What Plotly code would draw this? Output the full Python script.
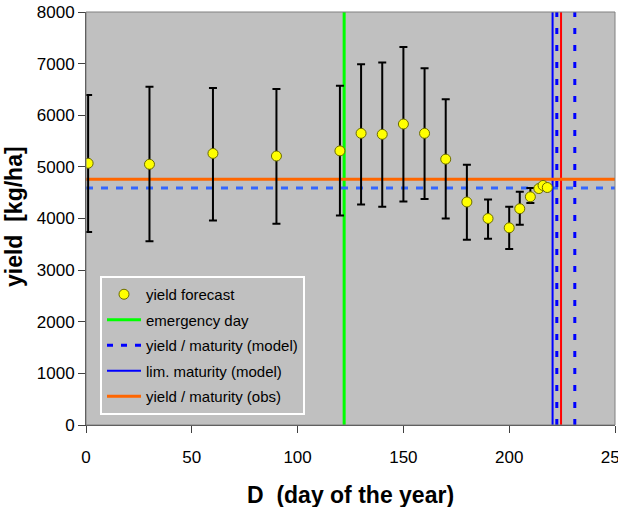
import plotly.graph_objects as go

# ---- data ----
days = [1, 30, 60, 90, 120, 130, 140, 150, 160, 170, 180, 190, 200, 205, 210, 214, 216, 218]
yield_fc = [5070, 5050, 5260, 5210, 5310, 5650, 5630, 5830, 5650, 5150, 4320, 4000, 3820, 4190, 4420, 4580, 4640, 4600]
err_hi = [6390, 6550, 6530, 6510, 6570, 6990, 7020, 7320, 6910, 6310, 5040, 4370, 4230, 4520, 4590, 4620, 4660, 4620]
err_lo = [3740, 3560, 3960, 3900, 4060, 4270, 4230, 4330, 4380, 4000, 3590, 3610, 3410, 3880, 4300, 4540, 4620, 4580]

emergency_day = 122
model_maturity_days = [222.5, 231]
lim_maturity_day = 220.5
obs_maturity_day = 224.5
model_yield = 4590
obs_yield = 4760

x_range = [0, 250]
y_range = [0, 8000]

err_plus = [h - v for h, v in zip(err_hi, yield_fc)]
err_minus = [v - l for v, l in zip(yield_fc, err_lo)]

FONT = "Arial, Liberation Sans, sans-serif"

fig = go.Figure()

# reference lines
fig.add_trace(go.Scatter(x=[emergency_day, emergency_day], y=y_range, mode="lines",
                         line=dict(color="#00FF00", width=3), showlegend=False))
fig.add_trace(go.Scatter(x=x_range, y=[model_yield, model_yield], mode="lines",
                         line=dict(color="#3366FF", width=3, dash="7px,8px"),
                         showlegend=False, hoverinfo="skip"))
fig.add_trace(go.Scatter(x=[lim_maturity_day, lim_maturity_day], y=y_range, mode="lines",
                         line=dict(color="#0000FF", width=2), showlegend=False))
for d in model_maturity_days:
    fig.add_trace(go.Scatter(x=[d, d], y=y_range, mode="lines",
                             line=dict(color="#0000FF", width=3, dash="6px,11px"),
                             showlegend=False, hoverinfo="skip"))
fig.add_trace(go.Scatter(x=[obs_maturity_day, obs_maturity_day], y=y_range, mode="lines",
                         line=dict(color="#FF0000", width=2), showlegend=False))
fig.add_trace(go.Scatter(x=x_range, y=[obs_yield, obs_yield], mode="lines",
                         line=dict(color="#FF6600", width=3), showlegend=False))

# forecast points with error bars
fig.add_trace(go.Scatter(
    x=days, y=yield_fc, mode="markers", name="yield forecast", legendgroup="a",
    marker=dict(size=10, color="#FFFF00", line=dict(color="#6B6B00", width=1)),
    error_y=dict(type="data", symmetric=False, array=err_plus, arrayminus=err_minus,
                 color="black", thickness=2, width=4),
))

# legend-only entries
def legend_line(name, color, width, dash, grp):
    fig.add_trace(go.Scatter(x=[None], y=[None], mode="lines", name=name, legendgroup=grp,
                             line=dict(color=color, width=width, dash=dash)))

legend_line("emergency day", "#00FF00", 3, "solid", "b")
legend_line("yield / maturity (model)", "#0000FF", 3, "6px,8px", "c")
legend_line("lim. maturity (model)", "#0000FF", 2, "solid", "d")
legend_line("yield / maturity (obs)", "#FF6600", 3, "solid", "e")

W, H = 618, 507
L, R, T, B = 86, 3, 12, 82
pw = W - L - R
ph = H - T - B

def px_x(p):
    return (p - L) / pw

def px_y(p):
    return (H - B - p) / ph

fig.update_layout(
    width=W, height=H,
    margin=dict(l=L, r=R, t=T, b=B, autoexpand=False),
    paper_bgcolor="white", plot_bgcolor="#C0C0C0",
    font=dict(family=FONT, size=17, color="black"),
    showlegend=True,
    legend=dict(x=px_x(100), y=px_y(276), xanchor="left", yanchor="top",
                bgcolor="#C0C0C0", bordercolor="white", borderwidth=2,
                font=dict(family=FONT, size=15, color="black"),
                traceorder="grouped", tracegroupgap=3, itemwidth=34),
    xaxis=dict(range=x_range, dtick=50, showgrid=False, zeroline=False,
               showline=True, linecolor="#404040", linewidth=1,
               ticks="outside", ticklen=7, tickcolor="#404040",
               ticklabelstandoff=10, ticklabeloverflow="allow", automargin=False),
    yaxis=dict(range=y_range, dtick=1000, showgrid=False, zeroline=False,
               showline=True, linecolor="#404040", linewidth=1,
               ticks="outside", ticklen=7, tickcolor="#404040",
               automargin=False),
    annotations=[
        dict(text="<b>D  (day of the year)</b>", xref="paper", yref="paper",
             x=0.5, y=px_y(495), xanchor="center", yanchor="middle", showarrow=False,
             font=dict(family=FONT, size=23, color="black")),
        dict(text="<b>yield  [kg/ha]</b>", xref="paper", yref="paper",
             x=px_x(14), y=px_y(217), xanchor="center", yanchor="middle", showarrow=False,
             textangle=-90, font=dict(family=FONT, size=23, color="black")),
    ],
    shapes=[dict(type="rect", xref="paper", yref="paper", x0=0, x1=1, y0=0, y1=1,
                 line=dict(color="#808080", width=1), layer="above")],
)

fig.write_html("out.html")
